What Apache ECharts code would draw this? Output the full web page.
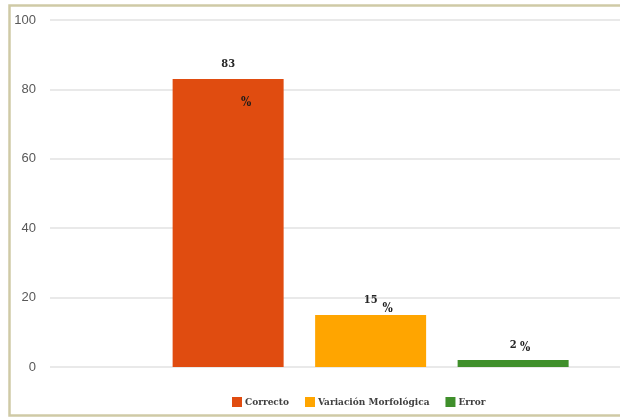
<!DOCTYPE html>
<html>
<head>
<meta charset="utf-8">
<script src="https://cdn.jsdelivr.net/npm/echarts@6/dist/echarts.min.js"></script>
<style>
  html, body { margin: 0; padding: 0; background: #ffffff; }
  #chart { width: 620px; height: 417px; }
</style>
</head>
<body>
<div id="chart"></div>
<script>
// Response categories and their shares (percent)
const categories = ['Correcto', 'Variación Morfológica', 'Error'];
const values = [83, 15, 2];
const colors = ['#e04c10', '#ffa500', '#3f8f2b'];
const yTicks = [0, 20, 40, 60, 80, 100];

// Where each "%" sign sits relative to its bar's top label slot
const percentOffsets = [[18, 35], [17, 5], [12, -1]];

const labelFont = {
  fontFamily: 'DejaVu Serif Condensed',
  fontWeight: 'bold',
  fontSize: 11,
  color: '#262626'
};

const series = categories.map((name, i) => ({
  name: name,
  type: 'bar',
  barWidth: 111,
  barGap: '-100%',
  itemStyle: { color: colors[i] },
  data: [[i + 1, values[i]]],
  label: Object.assign({
    show: true,
    position: 'top',
    offset: [0, -4],
    formatter: p => String(p.value[1])
  }, labelFont),
  z: 2
}));

// Transparent overlay that carries the "%" marks
series.push({
  name: 'pct',
  type: 'bar',
  barWidth: 111,
  barGap: '-100%',
  itemStyle: { color: 'rgba(0,0,0,0)' },
  silent: true,
  z: 3,
  data: values.map((v, i) => ({
    value: [i + 1, v],
    label: Object.assign({}, labelFont, {
      show: true,
      position: 'top',
      offset: percentOffsets[i],
      fontSize: 12,
      color: '#1a1a1a',
      formatter: '%'
    })
  }))
});

const chart = echarts.init(document.getElementById('chart'), null, { renderer: 'canvas' });
chart.setOption({
  animation: false,
  backgroundColor: '#ffffff',
  grid: { left: 50, right: 0, top: 20, bottom: 50 },
  xAxis: {
    type: 'value',
    min: -0.25,
    max: 3.75,
    show: false
  },
  yAxis: {
    type: 'value',
    min: yTicks[0],
    max: yTicks[yTicks.length - 1],
    interval: 20,
    axisLine: { show: false },
    axisTick: { show: false },
    axisLabel: {
      margin: 14,
      fontFamily: 'Liberation Sans',
      fontSize: 13,
      color: '#595959'
    },
    splitLine: { lineStyle: { color: '#e2e2e2', width: 1.5 } }
  },
  legend: {
    data: categories,
    left: 232,
    top: 397,
    padding: 0,
    itemWidth: 10,
    itemHeight: 10,
    itemGap: 16,
    icon: 'rect',
    textStyle: {
      fontFamily: 'DejaVu Serif Condensed',
      fontWeight: 'bold',
      fontSize: 10,
      color: '#404040',
      padding: [0, 0, 0, -2]
    }
  },
  graphic: [{
    type: 'rect',
    z: 100,
    silent: true,
    shape: { x: 9.5, y: 5.5, width: 700, height: 410 },
    style: { fill: 'none', stroke: '#cfcaa6', lineWidth: 2.5 }
  }],
  series: series
});
</script>
</body>
</html>
